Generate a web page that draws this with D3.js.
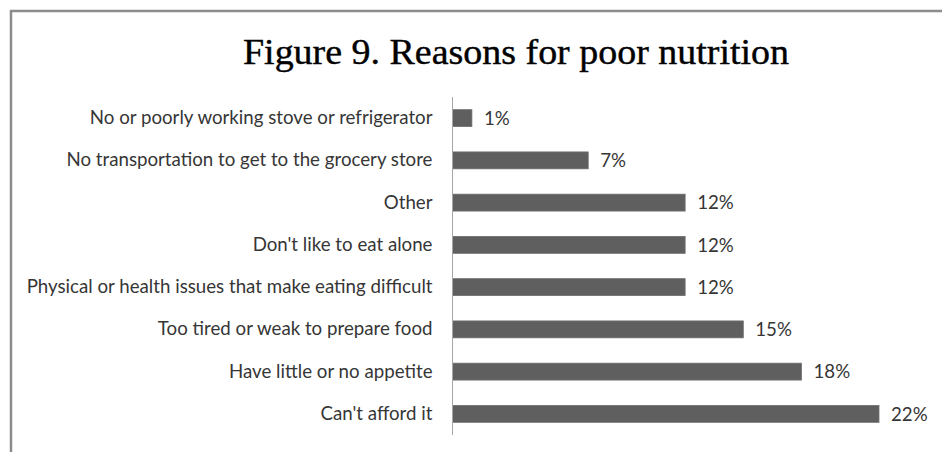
<!DOCTYPE html>
<html>
<head>
<meta charset="utf-8">
<script src="https://cdn.jsdelivr.net/npm/d3@7/dist/d3.min.js"></script>
<style>
  html, body { margin: 0; padding: 0; background: #fff; }
  svg { display: block; }
</style>
</head>
<body>
<svg id="chart" width="942" height="452"></svg>
<script>
// Reasons for poor nutrition, top to bottom
const categories = [
  "No or poorly working stove or refrigerator",
  "No transportation to get to the grocery store",
  "Other",
  "Don't like to eat alone",
  "Physical or health issues that make eating difficult",
  "Too tired or weak to prepare food",
  "Have little or no appetite",
  "Can't afford it"
];
const values = [1, 7, 12, 12, 12, 15, 18, 22];
const valueLabels = ["1%", "7%", "12%", "12%", "12%", "15%", "18%", "22%"];
const titleText = "Figure 9. Reasons for poor nutrition";

const svg = d3.select("#chart");
const W = 942, H = 452;
const labelFont = "Lato, 'Open Sans', sans-serif";
const labelSize = 18.7;

// outer frame (runs off the right and bottom edges)
svg.append("rect")
  .attr("x", 11).attr("y", 11)
  .attr("width", W + 20).attr("height", H + 20)
  .attr("fill", "#fff")
  .attr("stroke", "#8c8c8c")
  .attr("stroke-width", 2.5);

// title
svg.append("text")
  .attr("x", 516).attr("y", 64)
  .attr("text-anchor", "middle")
  .attr("font-family", "'Liberation Serif', 'DejaVu Serif', serif")
  .attr("font-size", 35)
  .attr("fill", "#000")
  .attr("stroke", "#000")
  .attr("stroke-width", 0.4)
  .attr("textLength", 546)
  .attr("lengthAdjust", "spacingAndGlyphs")
  .text(titleText);

const x0 = 452.5;
const x = d3.scaleLinear().domain([0, 22]).range([x0, 879]);
const y = d3.scaleBand().domain(categories).range([97, 435]).paddingInner(0.6).paddingOuter(0.3);

const g = svg.append("g");

// bars
g.selectAll("rect.bar")
  .data(values)
  .join("rect")
  .attr("class", "bar")
  .attr("x", x(0))
  .attr("y", (d, i) => y(categories[i]))
  .attr("width", d => x(d) - x(0))
  .attr("height", y.bandwidth())
  .attr("fill", "#5f5f5f")
  .attr("stroke", "#6e6e6e")
  .attr("stroke-width", 0.8);

// value labels
g.selectAll("text.val")
  .data(values)
  .join("text")
  .attr("class", "val")
  .attr("x", d => x(d) + 12)
  .attr("y", (d, i) => y(categories[i]) + y.bandwidth() / 2)
  .attr("dy", "0.36em")
  .attr("font-family", labelFont)
  .attr("font-size", labelSize)
  .attr("fill", "#363636")
  .text((d, i) => valueLabels[i]);

// category axis
const axis = d3.axisLeft(y).tickSize(0).tickPadding(20);
const ag = svg.append("g").attr("transform", `translate(${x0},0)`).call(axis);
ag.select(".domain").attr("stroke", "#a6a6a6").attr("stroke-width", 1).attr("d", "M0,97V435");
ag.selectAll("text")
  .attr("font-family", labelFont)
  .attr("font-size", labelSize)
  .attr("fill", "#363636");
</script>
</body>
</html>
